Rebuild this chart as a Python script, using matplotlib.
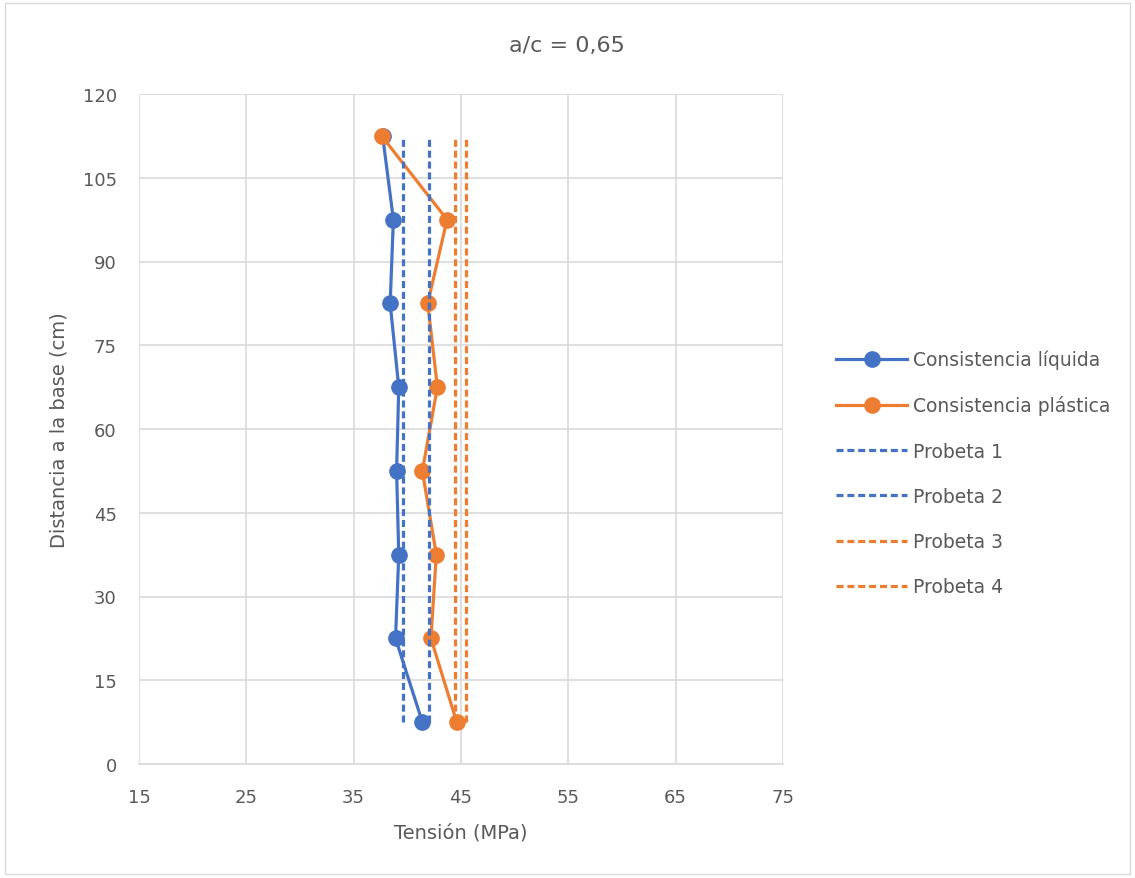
import numpy as np
import matplotlib.pyplot as plt
from matplotlib.patches import Rectangle

# distancia a la base (cm)
dist = [112.5, 97.5, 82.5, 67.5, 52.5, 37.5, 22.5, 7.5]
# tension (MPa)
liquida = [37.7, 38.7, 38.4, 39.2, 39.0, 39.2, 38.9, 41.4]
plastica = [37.6, 43.7, 41.9, 42.8, 41.4, 42.7, 42.2, 44.6]
# probetas (MPa), lineas verticales
probetas = [39.6, 42.0, 44.45, 45.5]
probeta_names = ['Probeta 1', 'Probeta 2', 'Probeta 3', 'Probeta 4']
probeta_y = [7.5, 112.5]

blue = '#4472C4'
orange = '#ED7D31'
grey = '#595959'

fig = plt.figure(figsize=(11.35, 8.79), dpi=100)
ax = fig.add_axes([139/1135, 1 - 765/879, (783-139)/1135, (765-95)/879])

ax.plot(liquida, dist, '-o', color=blue, lw=2.3, ms=11, label='Consistencia líquida')
ax.plot(plastica, dist, '-o', color=orange, lw=2.3, ms=11, label='Consistencia plástica')
colors = [blue, blue, orange, orange]
for x, name, c in zip(probetas, probeta_names, colors):
    ax.plot([x, x], probeta_y, '--', color=c, lw=2.3, dashes=(2.2, 1.2), label=name)

ax.set_xlim(15, 75)
ax.set_ylim(0, 120)
ax.set_xticks(np.arange(15, 76, 10))
ax.set_yticks(np.arange(0, 121, 15))
ax.grid(True, color='#D9D9D9', lw=1.2)
ax.set_axisbelow(True)
for s in ['top', 'right', 'left']:
    ax.spines[s].set_visible(False)
ax.spines['bottom'].set_color('#D9D9D9')
ax.spines['bottom'].set_linewidth(1.2)
ax.tick_params(length=0, labelsize=13, colors=grey)
ax.tick_params(axis='x', pad=17)
ax.tick_params(axis='y', pad=16)

ax.set_xlabel('Tensión (MPa)', fontsize=14, color=grey, labelpad=12)
ax.set_ylabel('Distancia a la base (cm)', fontsize=14, color=grey, labelpad=10)
fig.text(567/1135, 1 - 46/879, 'a/c = 0,65', ha='center', va='center', fontsize=16, color=grey)

leg = fig.legend(loc='center left', bbox_to_anchor=(819/1135, 1 - 474/879), frameon=False,
                 fontsize=13.5, handlelength=3.8, labelspacing=1.4, handletextpad=0.3,
                 labelcolor=grey)

fig.patches.append(Rectangle((0.004, 0.004), 0.992, 0.992, transform=fig.transFigure,
                             fill=False, edgecolor='#D9D9D9', lw=1))

fig.savefig('out.png', dpi=100)
